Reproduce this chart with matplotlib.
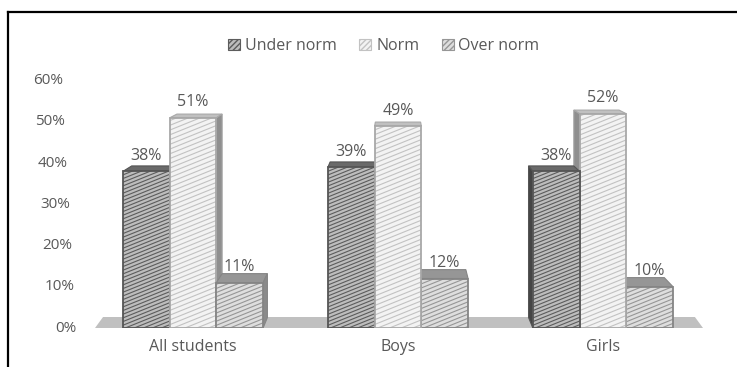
import numpy as np
import matplotlib
matplotlib.use("Agg")
from matplotlib import pyplot as plt
from matplotlib import transforms
from matplotlib.patches import Polygon, Rectangle, Patch
from matplotlib.collections import LineCollection
from matplotlib.lines import Line2D

plt.rcParams['font.family'] = ['Open Sans', 'DejaVu Sans']

groups = ["All students", "Boys", "Girls"]
series = ["Under norm", "Norm", "Over norm"]
under_norm = [38, 39, 38]
norm = [51, 49, 52]
over_norm = [11, 12, 10]
y_ticks = [0, 10, 20, 30, 40, 50, 60]

# styling per series: front fill, hatch lines, outline, top face, side face
front_colors = ["#bdbdbd", "#f3f3f3", "#dedede"]
line_colors = ["#5c5c5c", "#c2c2c2", "#969696"]
edge_colors = ["#555555", "#a8a8a8", "#858585"]
top_colors = ["#6a6a6a", "#c0c0c0", "#969696"]
side_colors = ["#454545", "#8f8f8f", "#8a8a8a"]
hatch_gaps = [3.4, 4.4, 3.8]
hatch_angle = 22
text_color = "#595959"

W, H = 737, 367
fig = plt.figure(figsize=(W / 100, H / 100), dpi=100)
ax = fig.add_axes([95 / W, 39 / H, 608 / W, 328 / H])
ax.set_xlim(-0.478, 2.488)
ax.set_ylim(0, 79.6)
for sp in ax.spines.values():
    sp.set_visible(False)
ax.set_yticks([])

# vanishing point of the 3d look (data coords)
VX, VY = 1.0, 79.6
K = 0.032


def back(x, y, kx=K, ky=K):
    return (x + kx * (VX - x), y + ky * (VY - y))


def hatch(patch, gap, color, z):
    bb = patch.get_window_extent()
    cx, cy = (bb.x0 + bb.x1) / 2, (bb.y0 + bb.y1) / 2
    r = np.hypot(bb.width, bb.height) / 2 + gap
    a = np.radians(hatch_angle)
    d = np.array([np.cos(a), np.sin(a)])
    n = np.array([-np.sin(a), np.cos(a)])
    segs = []
    for c in np.arange(-r, r, gap):
        p = np.array([cx, cy]) + c * n
        segs.append([p - r * d, p + r * d])
    lc = LineCollection(segs, colors=color, linewidths=0.8,
                        transform=transforms.IdentityTransform(), zorder=z)
    ax.add_collection(lc, autolim=False)
    # clip after adding, otherwise the axes patch replaces it
    lc.set_clip_path(patch)


# floor
x_lo, x_hi = ax.get_xlim()
fkx, fky = 0.0265, 0.0335
floor = Polygon([(x_lo, 0), (x_hi, 0), back(x_hi, 0, fkx, fky), back(x_lo, 0, fkx, fky)],
                closed=True, fc="#c0c0c0", ec="none", zorder=1)
ax.add_patch(floor)

width = 0.228
offsets = [-width, 0, width]
values = [under_norm, norm, over_norm]

for g in range(len(groups)):
    for s in range(len(series)):
        v = values[s][g]
        x0 = g + offsets[s] - width / 2
        x1 = x0 + width
        xc = x0 + width / 2
        # bars closer to the middle cover the hidden sides of their neighbours
        if xc < VX:
            z = 2 + s
        else:
            z = 2 + (2 - s)

        top = Polygon([(x0, v), (x1, v), back(x1, v), back(x0, v)], closed=True,
                      fc=top_colors[s], ec=edge_colors[s], lw=0.8, zorder=z)
        ax.add_patch(top)
        if abs(g - VX) > 0.5:
            xs = x1 if xc < VX else x0
            side = Polygon([(xs, 0), (xs, v), back(xs, v), back(xs, 0)], closed=True,
                           fc=side_colors[s], ec=edge_colors[s], lw=0.8, zorder=z)
            ax.add_patch(side)

        front = Rectangle((x0, 0), width, v, fc=front_colors[s], ec="none", zorder=z + 0.1)
        ax.add_patch(front)
        hatch(front, hatch_gaps[s], line_colors[s], z + 0.2)
        ax.add_patch(Rectangle((x0, 0), width, v, fill=False, ec=edge_colors[s],
                               lw=1.3, zorder=z + 0.3))

        ax.annotate(f"{v}%", xy=(xc, v), xytext=(0, 11.2), textcoords="offset points",
                    ha="center", va="center", fontsize=11.5, color=text_color, zorder=10)

# value axis labels, slightly slanted like the 3d wall
ytrans = transforms.blended_transform_factory(ax.transAxes, ax.transData)
for t in y_ticks:
    dx = -(18 + 14 * t / 60)
    off = transforms.ScaledTranslation(dx / 100, 0, fig.dpi_scale_trans)
    ax.text(0, t, f"{t}%", transform=ytrans + off, ha="right", va="center",
            fontsize=11, color=text_color, clip_on=False)

ax.set_xticks(range(len(groups)), groups)
ax.tick_params(axis="x", length=0, pad=8, labelsize=11.5, labelcolor=text_color)

handles = [Patch(fc=front_colors[i], ec=line_colors[i], hatch="//////", lw=0.8)
           for i in range(len(series))]
fig.legend(handles, series, loc="center", bbox_to_anchor=(384 / W, 1 - 46 / H),
           ncol=3, frameon=False, handlelength=0.75, handleheight=0.75,
           handletextpad=0.3, columnspacing=1.4, fontsize=11.5, labelcolor=text_color)

# chart frame
fig.add_artist(Line2D([8 / W, 8 / W], [0, 1 - 12 / H], transform=fig.transFigure,
                      color="black", lw=1.6))
fig.add_artist(Line2D([8 / W, 1], [1 - 12 / H, 1 - 12 / H], transform=fig.transFigure,
                      color="black", lw=1.6))

fig.savefig("out.png")
